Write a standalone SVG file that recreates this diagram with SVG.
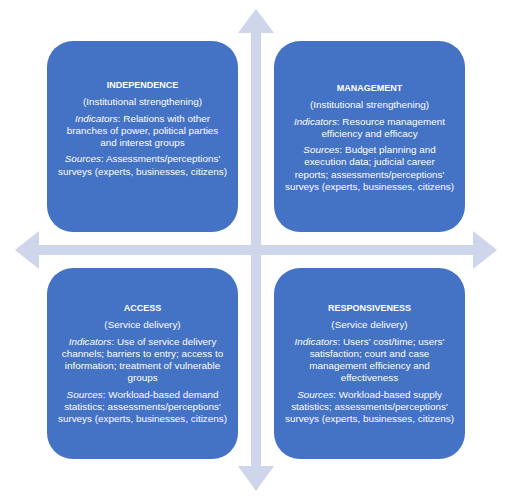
<svg xmlns="http://www.w3.org/2000/svg" width="511" height="499" viewBox="0 0 511 499">
<style>
.bg{fill:#ffffff}
.axis{fill:#CFD5EA}
.box{fill:#4472C4}
text{font-family:"Liberation Sans",Arial,sans-serif;font-size:9.9px;fill:#ffffff;text-anchor:middle}
.t{font-weight:bold;font-size:9px}
.i{font-style:italic}
</style>
<rect class="bg" x="0" y="0" width="511" height="499"/>
<g id="connectors">
<polygon class="axis" points="256,9 274,33 261,33 261,245 473,245 473,231 497,250 473,269 473,255 261,255 261,466 274,466 256,491 238,466 251,466 251,255 39,255 39,269 15,250 39,231 39,245 251,245 251,33 238,33"/>
</g>
<g id="independence">
<rect class="box" x="47" y="41" width="191" height="191" rx="26" ry="26"/>
<text class="t" x="142.5" y="88">INDEPENDENCE</text>
<text x="142.5" y="105">(Institutional strengthening)</text>
<text x="142.5" y="122"><tspan class="i">Indicators</tspan>: Relations with other</text>
<text x="142.5" y="134">branches of power, political parties</text>
<text x="142.5" y="146">and interest groups</text>
<text x="142.5" y="162"><tspan class="i">Sources</tspan>: Assessments/perceptions'</text>
<text x="142.5" y="174.5">surveys (experts, businesses, citizens)</text>
</g>
<g id="management">
<rect class="box" x="274" y="41" width="191" height="191" rx="26" ry="26"/>
<text class="t" x="369.5" y="91">MANAGEMENT</text>
<text x="369.5" y="108">(Institutional strengthening)</text>
<text x="369.5" y="125"><tspan class="i">Indicators</tspan>: Resource management</text>
<text x="369.5" y="137">efficiency and efficacy</text>
<text x="369.5" y="153"><tspan class="i">Sources</tspan>: Budget planning and</text>
<text x="369.5" y="165">execution data; judicial career</text>
<text x="369.5" y="177.5">reports; assessments/perceptions'</text>
<text x="369.5" y="189.5">surveys (experts, businesses, citizens)</text>
</g>
<g id="access">
<rect class="box" x="47" y="268" width="191" height="191" rx="26" ry="26"/>
<text class="t" x="142.5" y="311">ACCESS</text>
<text x="142.5" y="328">(Service delivery)</text>
<text x="142.5" y="345"><tspan class="i">Indicators</tspan>: Use of service delivery</text>
<text x="142.5" y="357">channels; barriers to entry; access to</text>
<text x="142.5" y="369">information; treatment of vulnerable</text>
<text x="142.5" y="381">groups</text>
<text x="142.5" y="398"><tspan class="i">Sources</tspan>: Workload-based demand</text>
<text x="142.5" y="410">statistics; assessments/perceptions'</text>
<text x="142.5" y="422">surveys (experts, businesses, citizens)</text>
</g>
<g id="responsiveness">
<rect class="box" x="274" y="268" width="191" height="191" rx="26" ry="26"/>
<text class="t" x="369.5" y="311">RESPONSIVENESS</text>
<text x="369.5" y="328">(Service delivery)</text>
<text x="369.5" y="345"><tspan class="i">Indicators</tspan>: Users' cost/time; users'</text>
<text x="369.5" y="357">satisfaction; court and case</text>
<text x="369.5" y="369">management efficiency and</text>
<text x="369.5" y="381">effectiveness</text>
<text x="369.5" y="398"><tspan class="i">Sources</tspan>: Workload-based supply</text>
<text x="369.5" y="410">statistics; assessments/perceptions'</text>
<text x="369.5" y="422">surveys (experts, businesses, citizens)</text>
</g>
</svg>
